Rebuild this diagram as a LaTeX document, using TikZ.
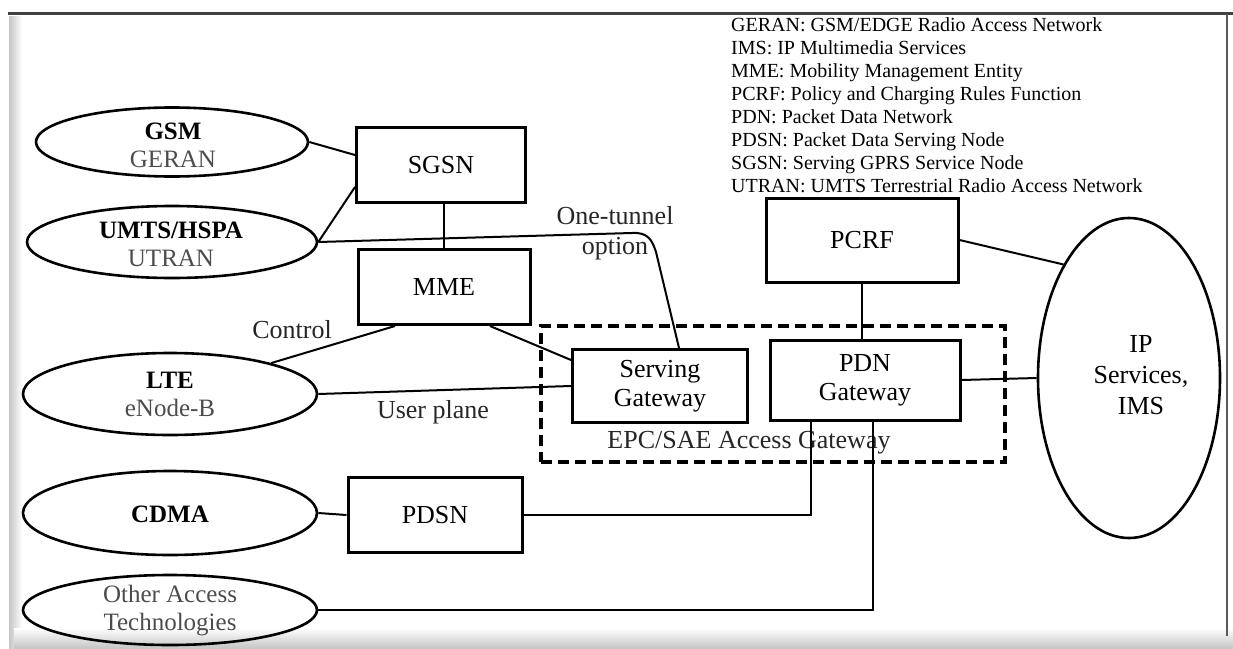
\documentclass[tikz,border=0pt]{standalone}
\usepackage{fontspec}
\setmainfont{Liberation Serif}
\usetikzlibrary{shapes.geometric}
\begin{document}
\begin{tikzpicture}[x=1pt,y=-1pt,
 box/.style={draw, line width=3pt, rectangle, inner sep=0pt, font=\fontsize{26}{29}\selectfont, align=center},
 ell/.style={draw, line width=2.6pt, ellipse, inner sep=0pt},
 conn/.style={line width=2pt},
 lbl/.style={font=\fontsize{26}{30}\selectfont, align=center, inner sep=0pt, text=black!85},
 elltxt/.style={font=\fontsize{25}{28}\selectfont, align=center, inner sep=0pt},
 light/.style={text=black!70}
]
\useasboundingbox (0,0) rectangle (1233,648);
% frame decoration
\shade[left color=gray!45, right color=white] (9,16) rectangle (22,648);
\shade[top color=white, bottom color=gray!45] (14,628) rectangle (1233,648);
\draw[line width=3pt, black!75] (8,13) -- (1233,13);
\draw[line width=1.4pt, black!65] (1227,14) -- (1227,636);

% legend
\node[anchor=north west, align=left, inner sep=0pt, font=\fontsize{20}{23}\selectfont] (legend) at (731,17)
 {GERAN: GSM/EDGE Radio Access Network\\
  IMS: IP Multimedia Services\\
  MME: Mobility Management Entity\\
  PCRF: Policy and Charging Rules Function\\
  PDN: Packet Data Network\\
  PDSN: Packet Data Serving Node\\
  SGSN: Serving GPRS Service Node\\
  UTRAN: UMTS Terrestrial Radio Access Network};

% EPC dashed group
\node[draw, line width=3.4pt, dash pattern=on 11pt off 6pt, minimum width=464pt, minimum height=136pt, inner sep=0pt] (epc) at (773,394) {};

% boxes
\node[box, minimum width=169pt, minimum height=75pt] (sgsn) at (441,165) {SGSN};
\node[box, minimum width=172pt, minimum height=75pt] (mme) at (444,287) {MME};
\node[box, minimum width=192pt, minimum height=84pt] (pcrf) at (862,240) {PCRF};
\node[box, minimum width=175pt, minimum height=73pt] (serv) at (660,386) {Serving\\Gateway};
\node[box, minimum width=190pt, minimum height=80pt] (pdn) at (865,380) {PDN\\Gateway};
\node[box, minimum width=174pt, minimum height=75pt] (pdsn) at (435,515) {PDSN};

% ellipses
\node[ell, minimum width=272pt, minimum height=69pt] (gsm) at (172,142) {};
\node[ell, minimum width=290pt, minimum height=72pt] (umts) at (172,242) {};
\node[ell, minimum width=294pt, minimum height=82pt] (lte) at (170,394) {};
\node[ell, minimum width=294pt, minimum height=84pt] (cdma) at (170,513) {};
\node[ell, minimum width=294pt, minimum height=70pt] (other) at (170,610) {};
\node[ell, minimum width=182pt, minimum height=320pt] (ip) at (1129,378) {};

% ellipse texts
\node[elltxt] (gsmtxt) at (173,145) {\textbf{GSM}\\\textcolor{black!70}{GERAN}};
\node[elltxt] (umtstxt) at (171,244) {\textbf{UMTS/HSPA}\\\textcolor{black!70}{UTRAN}};
\node[elltxt] (ltetxt) at (170,394) {\textbf{LTE}\\\textcolor{black!70}{eNode-B}};
\node[elltxt] (cdmatxt) at (170,514) {\textbf{CDMA}};
\node[elltxt, light] (othertxt) at (170,611) {Other Access\\Technologies};
\node[elltxt, font=\fontsize{26}{31}\selectfont] (iptxt) at (1141,375) {IP\\Services,\\IMS};

% labels
\node[lbl] (ctrl) at (292,330) {Control};
\node[lbl] (uplane) at (433,412) {User plane};
\node[lbl] (tunnel) at (615,233) {One-tunnel\\option};
\node[lbl] (epclbl) at (749,443) {EPC/SAE Access Gateway};

% connectors
\draw[conn] (gsm.east) -- ([yshift=10pt]sgsn.west);
\draw[conn] (umts.east) -- ([yshift=-22pt]sgsn.west);
\draw[conn] (mme.north) -- (mme.north |- sgsn.south);
\draw[conn] (umts.east) -- (632,233) .. controls (648,232) and (652,240) .. (656,252) -- ([xshift=19pt]serv.north);
\draw[conn] (lte.17) -- ([xshift=-49pt]mme.south);
\draw[conn] ([xshift=46pt]mme.south) -- ([yshift=-12pt]serv.north west);
\draw[conn] (lte.east) -- (serv.west);
\draw[conn] (pcrf.south) -- (pcrf.south |- pdn.north);
\draw[conn] (pcrf.east) -- (ip.120);
\draw[conn] (pdn.east) -- (ip.west);
\draw[conn] (cdma.east) -- (pdsn.west);
\draw[conn] (pdsn.east) -| ([xshift=-54pt]pdn.south);
\draw[conn] (other.east) -| ([xshift=8pt]pdn.south);
\end{tikzpicture}
\end{document}
